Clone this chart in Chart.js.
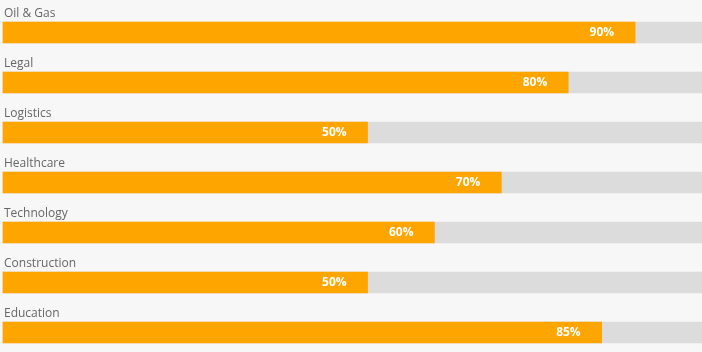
<!DOCTYPE html>
<html>
<head>
<meta charset="utf-8">
<script src="https://cdn.jsdelivr.net/npm/chart.js@4"></script>
<style>
  html, body { margin: 0; padding: 0; background: #f7f7f7; }
  #wrap { width: 702px; height: 352px; position: relative; }
</style>
</head>
<body>
<div id="wrap"><canvas id="c"></canvas></div>
<script>
const categories = ['Oil & Gas', 'Legal', 'Logistics', 'Healthcare', 'Technology', 'Construction', 'Education'];
const values = [90, 80, 50, 70, 60, 50, 85];
const trackMax = 100;
const trackValues = categories.map(() => trackMax);

const scaleMin = -4.5;

const labelPlugin = {
  id: 'labels',
  afterDatasetsDraw(chart) {
    const ctx = chart.ctx;
    const yScale = chart.scales.y;
    const meta = chart.getDatasetMeta(0);
    ctx.save();
    categories.forEach((cat, i) => {
      const y = yScale.getPixelForValue(i);
      ctx.font = '12px "Open Sans"';
      ctx.fillStyle = '#666666';
      ctx.textAlign = 'left';
      ctx.textBaseline = 'alphabetic';
      ctx.fillText(cat, 4, y - 15.5);
      const bar = meta.data[i];
      ctx.font = 'bold 12px "Open Sans"';
      ctx.fillStyle = '#ffffff';
      ctx.textAlign = 'right';
      ctx.textBaseline = 'middle';
      ctx.fillText(values[i] + '%', bar.x - 21, y + 0.5);
    });
    ctx.restore();
  }
};

new Chart(document.getElementById('c'), {
  type: 'bar',
  data: {
    labels: categories,
    datasets: [
      { data: values, backgroundColor: '#ffa500', base: scaleMin, barThickness: 21, grouped: false, borderWidth: 0, clip: false },
      { data: trackValues, backgroundColor: '#dcdcdc', base: scaleMin, barThickness: 21, grouped: false, borderWidth: 0, clip: false }
    ]
  },
  options: {
    indexAxis: 'y',
    responsive: true,
    maintainAspectRatio: false,
    animation: false,
    layout: { padding: { left: 3, right: 0, top: 32.5, bottom: 19.5 } },
    scales: {
      x: { min: scaleMin, max: trackMax, display: false },
      y: { type: 'category', offset: false, display: false }
    },
    plugins: { legend: { display: false }, tooltip: { enabled: false } }
  },
  plugins: [labelPlugin]
});
</script>
</body>
</html>
